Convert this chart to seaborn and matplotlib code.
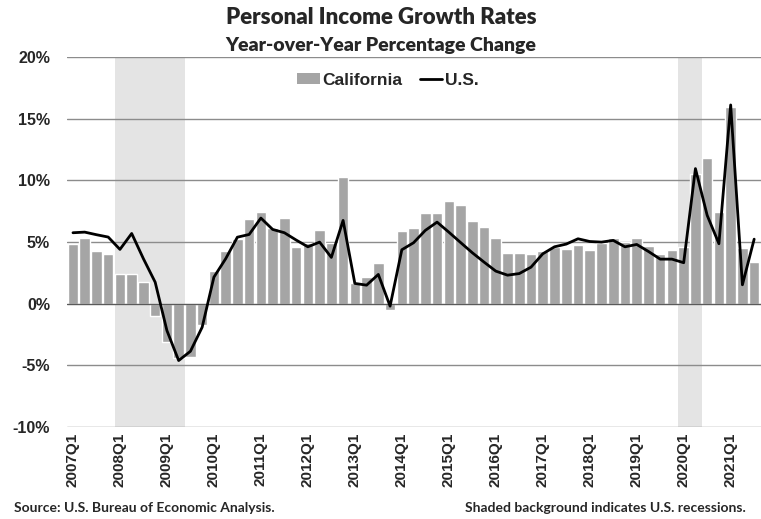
import pandas as pd
import matplotlib
matplotlib.use("Agg")
import matplotlib.pyplot as plt
import seaborn as sns
from matplotlib.patches import Patch
from matplotlib.lines import Line2D

# quarters 2007Q1 .. 2021Q3
quarters = [f"{y}Q{q}" for y in range(2007, 2022) for q in range(1, 5)][:59]

california = [4.81, 5.33, 4.24, 4.0, 2.43, 2.45, 1.78, -0.95, -3.11, -4.4,
              -4.3, -1.76, 2.62, 4.3, 5.22, 6.84, 7.47, 6.17, 6.92, 4.62,
              4.95, 6.0, 4.9, 10.25, 1.67, 2.2, 3.27, -0.5, 5.87, 6.11,
              7.33, 7.33, 8.36, 7.98, 6.73, 6.25, 5.3, 4.14, 4.14, 4.0,
              4.3, 4.6, 4.43, 4.73, 4.33, 4.92, 5.35, 5.0, 5.35, 4.7,
              4.05, 4.33, 4.6, 10.5, 11.85, 7.44, 15.93, 4.51, 3.35]

us = [5.76, 5.81, 5.6, 5.41, 4.41, 5.7, 3.65, 1.75, -2.17, -4.6,
      -3.85, -1.9, 2.16, 3.65, 5.4, 5.62, 6.95, 6.03, 5.76, 5.17,
      4.62, 5.0, 3.76, 6.76, 1.65, 1.51, 2.38, -0.19, 4.38, 4.95,
      5.95, 6.62, 5.81, 4.97, 4.14, 3.38, 2.65, 2.32, 2.45, 2.97,
      4.05, 4.62, 4.84, 5.27, 5.05, 5.0, 5.14, 4.62, 4.81, 4.24,
      3.62, 3.62, 3.33, 10.96, 7.17, 4.87, 16.12, 1.54, 5.24]

# recessions (first and last quarter)
recessions = [("2008Q1", "2009Q2"), ("2020Q1", "2020Q2")]

yticks = [-10, -5, 0, 5, 10, 15, 20]

df = pd.DataFrame({"quarter": quarters, "California": california, "U.S.": us})

sns.set_style("white")
plt.rcParams["font.family"] = ["Liberation Sans", "DejaVu Sans"]

fig = plt.figure(figsize=(7.61, 5.19), dpi=100)
ax = fig.add_axes([0.0877, 0.177, 0.9118, 0.713])

# recession shading
for start, end in recessions:
    i0, i1 = quarters.index(start), quarters.index(end)
    ax.axvspan(i0 - 0.45, i1 + 0.55, color="#e4e4e4", lw=0, zorder=0)

for t in yticks:
    if t != 0:
        ax.axhline(t, color="#8c8c8c", lw=1.0, zorder=1)

sns.barplot(data=df, x="quarter", y="California", color="#a5a5a5",
            saturation=1, width=0.9, ax=ax, zorder=2)
ax.axhline(0, color="#5a5a5a", lw=1.0, zorder=3)
sns.lineplot(data=df, x="quarter", y="U.S.", color="black", lw=2.0,
             ax=ax, zorder=4, sort=False)

ax.set_xlim(-0.53, 58.55)
ax.set_ylim(-10, 20)
ax.set_yticks(yticks)
ax.set_yticklabels([f"{t}%" for t in yticks], fontsize=11.5, fontweight="bold")
ax.set_xticks(range(0, 59, 4))
ax.set_xticklabels(quarters[::4], rotation=90, fontsize=11, fontweight="bold")
ax.tick_params(axis="y", length=0, pad=12)
ax.tick_params(axis="x", length=0, pad=4)
ax.set_xlabel("")
ax.set_ylabel("")
sns.despine(ax=ax, left=True, right=True, top=True, bottom=True)

handles = [Patch(facecolor="#a5a5a5", edgecolor="none"),
           Line2D([0], [0], color="black", lw=2.0)]
ax.legend(handles, ["California", "U.S."], loc="center", bbox_to_anchor=(0.463, 0.938),
          ncol=2, frameon=False, prop={"family": "Liberation Sans", "weight": "bold", "size": 12.5},
          handlelength=1.3, handleheight=0.6, handletextpad=0.15, columnspacing=1.0)

fig.text(0.5007, 0.967, "Personal Income Growth Rates", ha="center", va="center",
         family="Lato", fontweight="heavy", fontsize=16)
fig.text(0.5007, 0.913, "Year-over-Year Percentage Change", ha="center", va="center",
         family="Lato", fontweight="heavy", fontsize=14)
fig.text(0.018, 0.021, "Source: U.S. Bureau of Economic Analysis.", ha="left", va="center",
         family="Lato", fontweight="bold", fontsize=10)
fig.text(0.980, 0.021, "Shaded background indicates U.S. recessions.", ha="right", va="center",
         family="Lato", fontweight="bold", fontsize=10)

fig.savefig("out.png", dpi=100)
